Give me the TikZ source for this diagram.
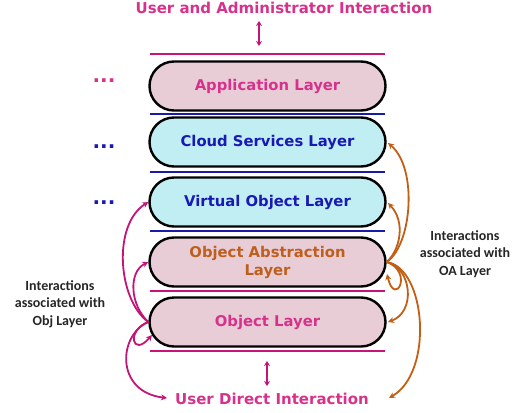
\documentclass[tikz,border=0pt]{standalone}
\usepackage{fontspec}
\setmainfont{DejaVu Sans}
\newfontfamily\notefont{Carlito}
\usetikzlibrary{arrows.meta}

\definecolor{magtext}{RGB}{214,50,140}
\definecolor{bluetext}{RGB}{25,25,180}
\definecolor{orangetext}{RGB}{190,95,30}
\definecolor{magline}{RGB}{200,20,120}
\definecolor{blueline}{RGB}{25,25,170}
\definecolor{magarrow}{RGB}{195,20,120}
\definecolor{orangearrow}{RGB}{195,95,20}
\definecolor{pinkfill}{RGB}{232,205,215}
\definecolor{cyanfill}{RGB}{192,238,242}

\tikzset{
  layerbox/.style={draw=black, line width=2.4pt, rounded corners=24.5pt,
    minimum width=236pt, minimum height=49pt, inner sep=0pt, align=center,
    font=\bfseries\fontsize{14.8}{18}\selectfont},
  pinkbox/.style={layerbox, fill=pinkfill},
  cyanbox/.style={layerbox, fill=cyanfill},
  sepmag/.style={draw=magline, line width=2.5pt},
  sepblue/.style={draw=blueline, line width=2.5pt},
  headline/.style={font=\bfseries\fontsize{15}{17}\selectfont, text=magtext, inner sep=2pt},
  dots/.style={font=\bfseries\fontsize{20}{20}\selectfont, inner sep=0pt, anchor=base},
  note/.style={font=\notefont\bfseries\fontsize{14}{17.5}\selectfont, align=center, text=black!85},
  magconn/.style={draw=magarrow, line width=1.8pt, -{Stealth[length=6pt,width=6pt]}},
  orgconn/.style={draw=orangearrow, line width=1.8pt, -{Stealth[length=6pt,width=6pt]}},
  twoway/.style={draw=magarrow, line width=2pt, {Stealth[length=5pt,width=6pt]}-{Stealth[length=5pt,width=6pt]}}
}

\begin{document}
\begin{tikzpicture}[x=1pt,y=-1pt]
\useasboundingbox (0,0) rectangle (521,412);

% layer stack
\node[pinkbox, text=magtext]    (app)   at (267.5,86)  {Application Layer};
\node[cyanbox, text=bluetext]   (cloud) at (267.5,142) {Cloud Services Layer};
\node[cyanbox, text=bluetext]   (virt)  at (267.5,202) {Virtual Object Layer};
\node[pinkbox, text=orangetext] (oal)   at (267.5,262) {Object Abstraction\\Layer};
\node[pinkbox, text=magtext]    (obj)   at (267.5,322) {Object Layer};

% separators between layers
\draw[sepmag]  (150,54)  -- (385,54);
\draw[sepblue] (150,114) -- (385,114);
\draw[sepblue] (150,172) -- (385,172);
\draw[sepblue] (150,231) -- (385,231);
\draw[sepmag]  (150,291) -- (385,291);
\draw[sepmag]  (150,351) -- (385,351);

% interaction labels
\node[headline] (title) at (284,8)   {User and Administrator Interaction};
\node[headline, inner sep=4pt] (udi)   at (272,399) {User Direct Interaction};

\coordinate (ta) at (259,21);
\coordinate (tb) at (259,46);
\draw[twoway] (ta) -- (tb);
\coordinate (ba) at (267,361);
\coordinate (bb) at (267,386);
\draw[twoway] (ba) -- (bb);

% further layers hinted
\node[dots, text=magtext]  (d1) at (104,82)  {...};
\node[dots, text=bluetext] (d2) at (104,148) {...};
\node[dots, text=bluetext] (d3) at (104,204) {...};

% side notes
\node[note] (objnote) at (60,304) {Interactions\\associated with\\Obj Layer};
\node[note] (oanote)  at (465,254) {Interactions\\associated with\\OA Layer};

% interactions of the object layer
\coordinate (objself) at (152,335);
\coordinate (udiL) at (167,398);
\draw[magconn] (obj.west) .. controls (118,300) and (112,225) .. (virt.west);
\draw[magconn] (obj.west) .. controls (130,305) and (128,272) .. (oal.west);
\draw[magconn] (obj.west) .. controls (126,330) and (132,358) .. (objself);
\draw[magconn] (obj.west) .. controls (118,335) and (115,392) .. (udiL);

% interactions of the object abstraction layer
\coordinate (cloudR) at (388,143);
\coordinate (virtR) at (388,203);
\coordinate (oalself) at (387,274);
\coordinate (objR) at (388,322);
\coordinate (udiR) at (389,398);
\draw[orgconn] (oal.east) .. controls (412,245) and (418,168) .. (cloudR);
\draw[orgconn] (oal.east) .. controls (400,250) and (406,222) .. (virtR);
\draw[orgconn] (oal.east) .. controls (414,272) and (395,308) .. (oalself);
\draw[orgconn] (oal.east) .. controls (412,268) and (416,312) .. (objR);
\draw[orgconn] (oal.east) .. controls (426,268) and (434,372) .. (udiR);
\end{tikzpicture}
\end{document}
